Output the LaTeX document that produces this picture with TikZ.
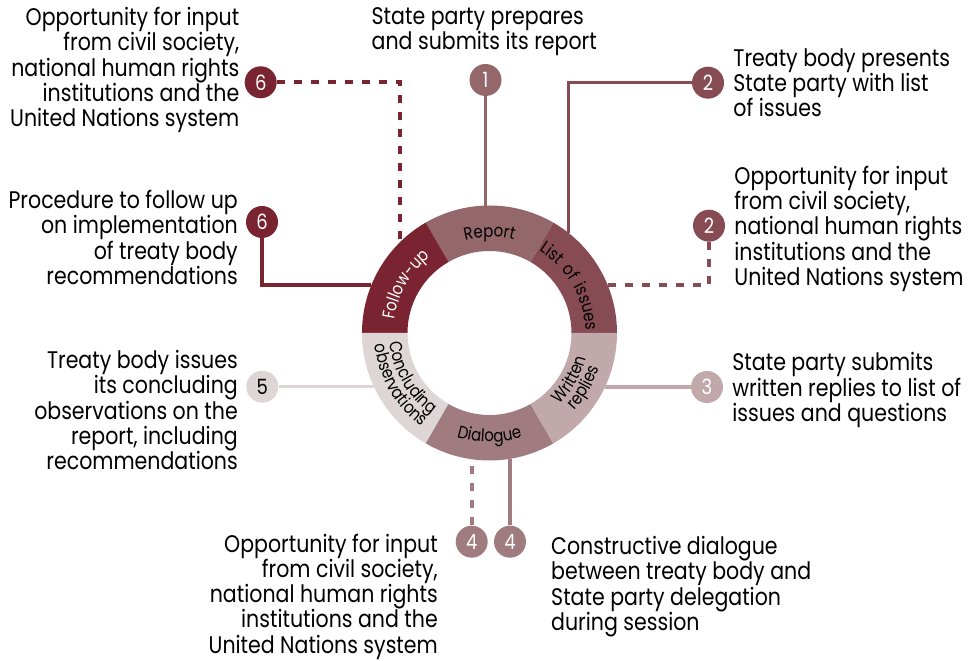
\documentclass[tikz,border=0pt]{standalone}
\usepackage{fontspec}
\setmainfont[FakeStretch=0.855]{Poppins}
\usetikzlibrary{positioning}
\usetikzlibrary{decorations.text}
\definecolor{folc}{HTML}{7A2331}
\definecolor{repc}{HTML}{94686B}
\definecolor{lisc}{HTML}{864B53}
\definecolor{wric}{HTML}{C1A9AB}
\definecolor{diac}{HTML}{A07C80}
\definecolor{conc}{HTML}{DDD5D6}
\newcommand\ringfont{\fontsize{17.5}{17.5}\selectfont}
\tikzset{%
  num/.style = {circle,fill=#1,text=white,minimum size=32pt,
        inner sep=0pt,font=\fontsize{21}{21}\selectfont},
  solidln/.style = {line width=3.2pt},
  dashln/.style = {line width=4pt,dash pattern=on 8pt off 9pt},
  lbl/.style = {inner sep=0pt,font=\fontsize{24}{25.3}\selectfont},
  lblr/.style = {lbl,align=right},
  lbll/.style = {lbl,align=left},
  ring/.style = {decorate,decoration={text along path,
        text align=center,text={#1}}}
}
\begin{document}
\begin{tikzpicture}[x=1pt,y=1pt]
\useasboundingbox (0,0) rectangle (980,661);
\coordinate (C) at (489.5,328);
% the ring
\begin{scope}[shift={(C)}]
  \foreach \a/\col in {0/lisc,60/repc,120/folc,180/conc,240/diac,300/wric}
    \fill[\col] (\a:127.5) arc[start angle=\a,delta angle=60,radius=127.5]
      -- (\a+60:82) arc[start angle=\a+60,delta angle=-60,radius=82] -- cycle;
  \path[ring={|\ringfont|Report}] (130:96) arc[start angle=130,end angle=50,radius=96];
  \path[ring={|\ringfont|List{\hspace{6pt}}of{\hspace{6pt}}issues}] (70:96) arc[start angle=70,end angle=-10,radius=96];
  \path[ring={|\ringfont\color{white}|Follow-up}] (190:96) arc[start angle=190,end angle=110,radius=96];
  \path[ring={|\ringfont|Dialogue}] (230:109) arc[start angle=230,end angle=310,radius=109];
  \path[ring={|\ringfont|Concluding}] (170:100) arc[start angle=170,end angle=250,radius=100];
  \path[ring={|\ringfont|observations}] (170:115) arc[start angle=170,end angle=250,radius=115];
  \path[ring={|\ringfont|Written}] (290:100) arc[start angle=290,end angle=370,radius=100];
  \path[ring={|\ringfont|replies}] (290:115) arc[start angle=290,end angle=370,radius=115];
\end{scope}
% where the lines meet the ring
\coordinate (r1) at (485.5,455.4);
\coordinate (r2a) at (568.3,428.2);
\coordinate (r2b) at (607.6,376);
\coordinate (r3) at (605,274);
\coordinate (r4a) at (471.7,201.7);
\coordinate (r4b) at (510,202.2);
\coordinate (r5) at (374,274.3);
\coordinate (r6b) at (371.4,376);
\coordinate (r6a) at (400,419);
% numbered steps
\node[num=repc] (c1) at (485.5,581) {1};
\node[num=lisc] (c2a) at (708,578.3) {2};
\node[num=lisc] (c2b) at (709,435.3) {2};
\node[num=wric] (c3) at (707,274) {3};
\node[num=diac] (c4a) at (471.7,119.3) {4};
\node[num=diac] (c4b) at (510,119.3) {4};
\node[num=conc,text=black] (c5) at (262.3,274.3) {5};
\node[num=folc] (c6b) at (262,439) {6};
\node[num=folc] (c6a) at (260.7,578.7) {6};
\draw[solidln,repc] (c1) -- (r1);
\draw[solidln,lisc] (c2a) -| (r2a);
\draw[dashln,lisc] (c2b) |- (r2b);
\draw[solidln,wric] (c3) -- (r3);
\draw[dashln,diac] (c4a) -- (r4a);
\draw[solidln,diac] (c4b) -- (r4b);
\draw[solidln,conc] (c5) -- (r5);
\draw[solidln,folc] (c6b) |- (r6b);
\draw[dashln,folc] (c6a) -| (r6a);
% texts
\node[lbll,anchor=north west] (t1) at (371.5,653.5) {State party prepares\\and submits its report};
\node[lbll,right=9pt of c2a] (t2a) {Treaty body presents\\State party with list\\of issues};
\node[lbll,right=9pt of c2b,yshift=-3pt] (t2b) {Opportunity for input\\from civil society,\\national human rights\\institutions and the\\United Nations system};
\node[lbll,right=9pt of c3,yshift=-3pt] (t3) {State party submits\\written replies to list of\\issues and questions};
\node[lblr,anchor=north east] (t4a) at (438,127.5) {Opportunity for input\\from civil society,\\national human rights\\institutions and the\\United Nations system};
\node[lbll,anchor=north west] (t4b) at (551,125) {Constructive dialogue\\between treaty body and\\State party delegation\\during session};
\node[lblr,anchor=north east] (t5) at (238,311) {Treaty body issues\\its concluding\\observations on the\\report, including\\recommendations};
\node[lblr,anchor=north east] (t6b) at (238,471) {Procedure to follow up\\on implementation\\of treaty body\\recommendations};
\node[lblr,anchor=north east] (t6a) at (239.5,654) {Opportunity for input\\from civil society,\\national human rights\\institutions and the\\United Nations system};
\end{tikzpicture}
\end{document}
